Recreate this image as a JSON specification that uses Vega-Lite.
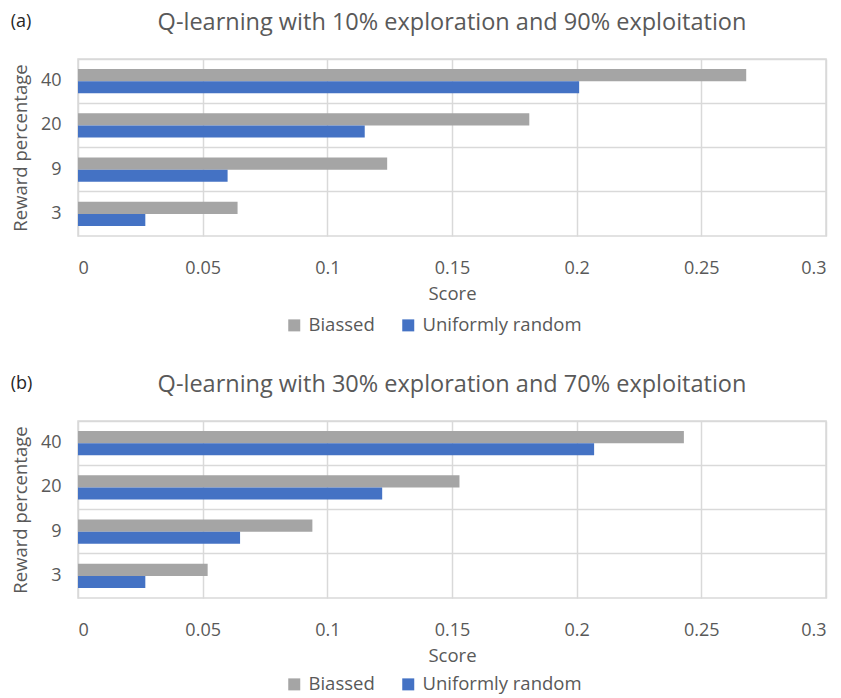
{
  "$schema": "https://vega.github.io/schema/vega-lite/v6.json",
  "background": "white",
  "padding": {"left": 10, "top": 9, "right": 8, "bottom": 2},
  "spacing": 35,
  "config": {
    "font": "Open Sans",
    "view": {"stroke": "#d9d9d9", "strokeWidth": 1.5},
    "title": {"fontSize": 23.5, "fontWeight": "normal", "color": "#595959", "font": "Open Sans"},
    "axis": {
      "labelColor": "#595959", "titleColor": "#595959",
      "labelFontSize": 18, "titleFontSize": 18.5, "titleFontWeight": "normal",
      "domain": false, "ticks": false, "gridColor": "#d9d9d9", "gridWidth": 1.5
    },
    "legend": {"labelColor": "#595959", "labelFontSize": 18.5}
  },
  "datasets": {
    "a": [
      {"reward": "40", "series": "Biassed", "score": 0.268},
      {"reward": "40", "series": "Uniformly random", "score": 0.201},
      {"reward": "20", "series": "Biassed", "score": 0.181},
      {"reward": "20", "series": "Uniformly random", "score": 0.115},
      {"reward": "9", "series": "Biassed", "score": 0.124},
      {"reward": "9", "series": "Uniformly random", "score": 0.06},
      {"reward": "3", "series": "Biassed", "score": 0.064},
      {"reward": "3", "series": "Uniformly random", "score": 0.027}
    ],
    "b": [
      {"reward": "40", "series": "Biassed", "score": 0.243},
      {"reward": "40", "series": "Uniformly random", "score": 0.207},
      {"reward": "20", "series": "Biassed", "score": 0.153},
      {"reward": "20", "series": "Uniformly random", "score": 0.122},
      {"reward": "9", "series": "Biassed", "score": 0.094},
      {"reward": "9", "series": "Uniformly random", "score": 0.065},
      {"reward": "3", "series": "Biassed", "score": 0.052},
      {"reward": "3", "series": "Uniformly random", "score": 0.027}
    ]
  },
  "resolve": {"legend": {"color": "independent"}},
  "vconcat": [
    {
      "title": {"text": "(a)", "anchor": "start", "frame": "bounds", "offset": -21, "fontSize": 18, "color": "#262626"},
      "resolve": {"legend": {"color": "independent"}},
      "vconcat": [
        {
          "title": {"text": "Q-learning with 10%  exploration and 90% exploitation", "anchor": "middle", "offset": 25},
          "width": 748,
          "height": 177,
          "data": {"name": "a"},
          "mark": {"type": "bar"},
          "encoding": {
            "y": {
              "field": "reward", "type": "nominal", "sort": ["40", "20", "9", "3"],
              "scale": {"paddingInner": 0, "paddingOuter": 0},
              "axis": {"title": "Reward percentage", "labelPadding": 17, "titlePadding": 10, "grid": true, "bandPosition": 0, "labelAngle": 0}
            },
            "yOffset": {
              "field": "series", "type": "nominal", "sort": ["Biassed", "Uniformly random"],
              "scale": {"paddingInner": 0, "paddingOuter": 0.84}
            },
            "x": {
              "field": "score", "type": "quantitative",
              "scale": {"domain": [0, 0.3]},
              "axis": {"title": "Score", "values": [0, 0.05, 0.1, 0.15, 0.2, 0.25, 0.3], "format": "~g", "labelPadding": 23, "titlePadding": 7, "grid": true}
            },
            "color": {
              "field": "series", "type": "nominal",
              "scale": {"domain": ["Biassed", "Uniformly random"], "range": ["#a5a5a5", "#4472c4"]},
              "legend": {"title": null, "orient": "none", "direction": "horizontal", "legendX": 207, "legendY": 257, "symbolType": "square", "symbolSize": 144, "symbolStrokeWidth": 0, "columnPadding": 24, "labelOffset": 5}
            }
          }
        }
      ]
    },
    {
      "title": {"text": "(b)", "anchor": "start", "frame": "bounds", "offset": -21, "fontSize": 18, "color": "#262626"},
      "resolve": {"legend": {"color": "independent"}},
      "vconcat": [
        {
          "title": {"text": "Q-learning with 30%  exploration and 70% exploitation", "anchor": "middle", "offset": 25},
          "width": 748,
          "height": 177,
          "data": {"name": "b"},
          "mark": {"type": "bar"},
          "encoding": {
            "y": {
              "field": "reward", "type": "nominal", "sort": ["40", "20", "9", "3"],
              "scale": {"paddingInner": 0, "paddingOuter": 0},
              "axis": {"title": "Reward percentage", "labelPadding": 17, "titlePadding": 10, "grid": true, "bandPosition": 0, "labelAngle": 0}
            },
            "yOffset": {
              "field": "series", "type": "nominal", "sort": ["Biassed", "Uniformly random"],
              "scale": {"paddingInner": 0, "paddingOuter": 0.84}
            },
            "x": {
              "field": "score", "type": "quantitative",
              "scale": {"domain": [0, 0.3]},
              "axis": {"title": "Score", "values": [0, 0.05, 0.1, 0.15, 0.2, 0.25, 0.3], "format": "~g", "labelPadding": 23, "titlePadding": 7, "grid": true}
            },
            "color": {
              "field": "series", "type": "nominal",
              "scale": {"domain": ["Biassed", "Uniformly random"], "range": ["#a5a5a5", "#4472c4"]},
              "legend": {"title": null, "orient": "none", "direction": "horizontal", "legendX": 207, "legendY": 254, "symbolType": "square", "symbolSize": 144, "symbolStrokeWidth": 0, "columnPadding": 24, "labelOffset": 5}
            }
          }
        }
      ]
    }
  ]
}
